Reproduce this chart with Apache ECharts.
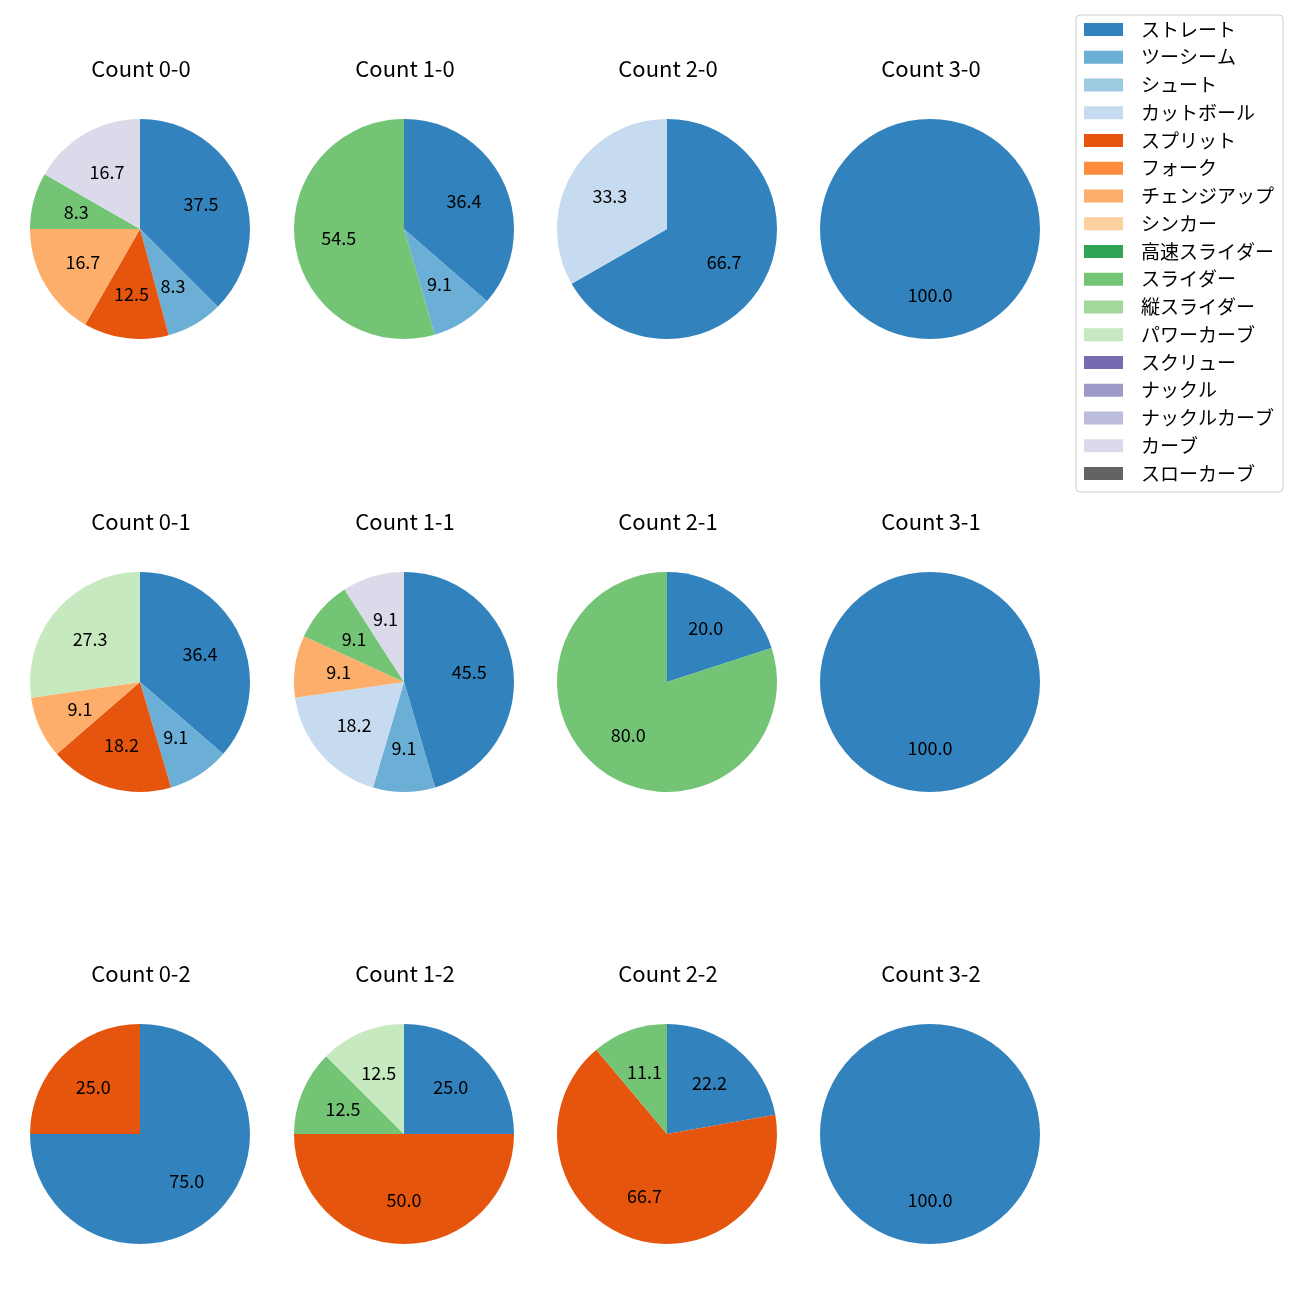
<!DOCTYPE html>
<html>
<head>
<meta charset="utf-8">
<script src="https://cdn.jsdelivr.net/npm/echarts@6/dist/echarts.min.js"></script>
<style>html,body{margin:0;padding:0;background:#fff}#c{width:1300px;height:1300px}</style>
</head>
<body>
<div id="c"></div>
<script>
const pitchTypes = ['ストレート','ツーシーム','シュート','カットボール','スプリット','フォーク','チェンジアップ','シンカー','高速スライダー','スライダー','縦スライダー','パワーカーブ','スクリュー','ナックル','ナックルカーブ','カーブ','スローカーブ'];
const pitchColors = ['#3182bd','#6baed6','#9ecae1','#c6dbef','#e6550d','#fd8d3c','#fdae6b','#fdd0a2','#31a354','#74c476','#a1d99b','#c7e9c0','#756bb1','#9e9ac8','#bcbddc','#dadaeb','#636363'];

// percentages per count, aligned with pitchTypes
const count00 = [37.5, 8.3, 0, 0, 12.5, 0, 16.7, 0, 0, 8.3, 0, 0, 0, 0, 0, 16.7, 0];
const count10 = [36.4, 9.1, 0, 0, 0, 0, 0, 0, 0, 54.5, 0, 0, 0, 0, 0, 0, 0];
const count20 = [66.7, 0, 0, 33.3, 0, 0, 0, 0, 0, 0, 0, 0, 0, 0, 0, 0, 0];
const count30 = [100.0, 0, 0, 0, 0, 0, 0, 0, 0, 0, 0, 0, 0, 0, 0, 0, 0];
const count01 = [36.4, 9.1, 0, 0, 18.2, 0, 9.1, 0, 0, 0, 0, 27.3, 0, 0, 0, 0, 0];
const count11 = [45.5, 9.1, 0, 18.2, 0, 0, 9.1, 0, 0, 9.1, 0, 0, 0, 0, 0, 9.1, 0];
const count21 = [20.0, 0, 0, 0, 0, 0, 0, 0, 0, 80.0, 0, 0, 0, 0, 0, 0, 0];
const count31 = [100.0, 0, 0, 0, 0, 0, 0, 0, 0, 0, 0, 0, 0, 0, 0, 0, 0];
const count02 = [75.0, 0, 0, 0, 25.0, 0, 0, 0, 0, 0, 0, 0, 0, 0, 0, 0, 0];
const count12 = [25.0, 0, 0, 0, 50.0, 0, 0, 0, 0, 12.5, 0, 12.5, 0, 0, 0, 0, 0];
const count22 = [22.2, 0, 0, 0, 66.7, 0, 0, 0, 0, 11.1, 0, 0, 0, 0, 0, 0, 0];
const count32 = [100.0, 0, 0, 0, 0, 0, 0, 0, 0, 0, 0, 0, 0, 0, 0, 0, 0];

const panels = [
  ['Count 0-0', count00], ['Count 1-0', count10], ['Count 2-0', count20], ['Count 3-0', count30],
  ['Count 0-1', count01], ['Count 1-1', count11], ['Count 2-1', count21], ['Count 3-1', count31],
  ['Count 0-2', count02], ['Count 1-2', count12], ['Count 2-2', count22], ['Count 3-2', count32]
];

const colX = [140, 404, 667, 930];
const rowY = [229, 682, 1134];
const R = 110;
const FONT = '"Noto Sans CJK JP", "Noto Sans", sans-serif';

const titles = [];
const series = [];

// dummy series so the legend lists every pitch type
series.push({
  type: 'pie', radius: 0, center: [-500, -500], silent: true,
  label: {show: false}, labelLine: {show: false},
  data: pitchTypes.map((n, i) => ({name: n, value: 1, itemStyle: {color: pitchColors[i]}}))
});

panels.forEach((p, k) => {
  const cx = colX[k % 4], cy = rowY[Math.floor(k / 4)];
  titles.push({
    text: p[0], left: cx + 1, top: cy - 173, textAlign: 'center', padding: 0,
    textStyle: {fontFamily: FONT, fontSize: 22, fontWeight: 'normal', color: '#000', lineHeight: 26}
  });
  const data = [];
  p[1].forEach((v, i) => { if (v > 0) data.push({name: pitchTypes[i], value: v, itemStyle: {color: pitchColors[i]}}); });
  series.push({
    type: 'pie', center: [cx, cy], radius: [0, R], startAngle: 90, clockwise: true,
    silent: true, label: {show: false}, labelLine: {show: false},
    itemStyle: {borderWidth: 0}, emphasis: {disabled: true}, data: data
  });
  series.push({
    type: 'pie', center: [cx, cy], radius: [16, R], startAngle: 90, clockwise: true,
    silent: true, legendHoverLink: false,
    itemStyle: {color: 'rgba(0,0,0,0)', borderWidth: 0},
    label: {show: true, position: 'inside', fontFamily: FONT, fontSize: 18, color: '#000',
      formatter: (d) => d.value.toFixed(1)},
    labelLine: {show: false}, emphasis: {disabled: true},
    data: data.map(d => ({name: d.name + ' ', value: d.value}))
  });
});

const chart = echarts.init(document.getElementById('c'), null, {renderer: 'canvas'});
chart.setOption({
  animation: false,
  title: titles,
  legend: {
    data: pitchTypes, orient: 'vertical', left: 1076, top: 15,
    padding: [5, 9, 9, 8], itemWidth: 39, itemHeight: 13, itemGap: 8.75,
    icon: 'rect', borderColor: '#cccccc', borderWidth: 1, borderRadius: 4, backgroundColor: '#fff',
    selectedMode: false,
    textStyle: {fontFamily: FONT, fontSize: 19, color: '#000', lineHeight: 18, padding: [0, 0, 0, 13]}
  },
  series: series
});
</script>
</body>
</html>
